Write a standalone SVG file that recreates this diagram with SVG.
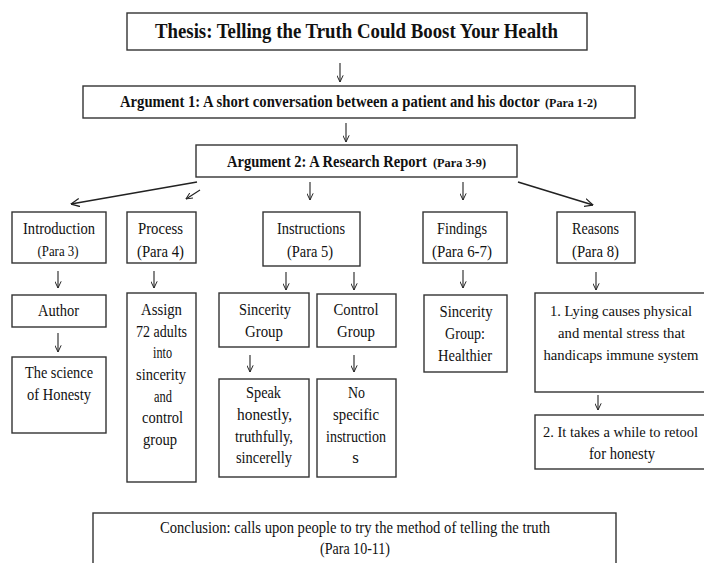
<svg xmlns="http://www.w3.org/2000/svg" width="704" height="563" viewBox="0 0 704 563">
<defs>
<marker id="ah" viewBox="0 0 10 10" refX="9.5" refY="5" markerWidth="7" markerHeight="7" markerUnits="userSpaceOnUse" orient="auto">
<path d="M0,0.5 L9.5,5 L0,9.5" fill="none" stroke="#222" stroke-width="1.4"/>
</marker>
<marker id="ahb" viewBox="0 0 10 10" refX="9.5" refY="5" markerWidth="9" markerHeight="9" markerUnits="userSpaceOnUse" orient="auto">
<path d="M0,0.5 L9.5,5 L0,9.5" fill="none" stroke="#222" stroke-width="1.4"/>
</marker>
<style>
rect{fill:#fff;stroke:#333;stroke-width:1.4}
text{font-family:"Liberation Serif","Times New Roman",serif;fill:#111;font-size:17px;text-anchor:middle}
.b{font-weight:bold}
.st{text-anchor:start}
.s{font-size:13px}
.p{font-size:14px}
.r{font-size:15px}
.c line{stroke:#222;stroke-width:1.1;marker-end:url(#ah)}
.c line.d{stroke-width:1.6;marker-end:url(#ahb)}
</style>
</defs>
<rect x="0" y="0" width="704" height="563" style="fill:#fff;stroke:none"/>

<g class="c" id="connectors">
<line x1="340" y1="63" x2="340" y2="82"/>
<line x1="346" y1="123" x2="346" y2="142"/>
<line x1="310" y1="182" x2="310" y2="200"/>
<line x1="463" y1="182" x2="463" y2="200"/>
<line class="d" x1="197" y1="182" x2="71" y2="204"/>
<line x1="200" y1="190" x2="186" y2="199"/>
<line class="d" x1="518" y1="182" x2="593" y2="205"/>
<line x1="58" y1="271" x2="58" y2="288"/>
<line x1="58" y1="333" x2="58" y2="352"/>
<line x1="154" y1="271" x2="154" y2="288"/>
<line x1="286" y1="272" x2="286" y2="290"/>
<line x1="354" y1="272" x2="354" y2="290"/>
<line x1="250" y1="355" x2="250" y2="372"/>
<line x1="354" y1="355" x2="354" y2="372"/>
<line x1="463" y1="270" x2="463" y2="288"/>
<line x1="596" y1="272" x2="596" y2="290"/>
<line x1="598" y1="395" x2="598" y2="410"/>
</g>

<g id="thesis">
<rect x="127" y="13" width="460" height="37"/>
<text class="b" x="155" y="38" style="font-size:22px;text-anchor:start" textLength="403" lengthAdjust="spacingAndGlyphs">Thesis: Telling the Truth Could Boost Your Health</text>
</g>

<g id="arg1">
<rect x="83" y="86" width="552" height="32"/>
<text class="b st" transform="translate(120,107) scale(0.86,1)" x="0" y="0" textLength="488" lengthAdjust="spacingAndGlyphs">Argument 1: A short conversation between a patient and his doctor</text>
<text class="b s st" x="545" y="107" textLength="52" lengthAdjust="spacingAndGlyphs">(Para 1-2)</text>
</g>

<g id="arg2">
<rect x="196" y="145" width="321" height="32"/>
<text class="b st" transform="translate(227,167) scale(0.85,1)" x="0" y="0" textLength="235" lengthAdjust="spacingAndGlyphs">Argument 2: A Research Report</text>
<text class="b s st" x="433" y="167" textLength="53" lengthAdjust="spacingAndGlyphs">(Para 3-9)</text>
</g>

<g id="intro">
<rect x="12" y="212" width="94" height="51"/>
<text x="59" y="234" textLength="72" lengthAdjust="spacingAndGlyphs">Introduction</text>
<text class="p" x="58" y="256" textLength="41" lengthAdjust="spacingAndGlyphs">(Para 3)</text>
</g>

<g id="process">
<rect x="127" y="212" width="69" height="51"/>
<text x="160.5" y="234" textLength="45" lengthAdjust="spacingAndGlyphs">Process</text>
<text x="160.5" y="257" textLength="47" lengthAdjust="spacingAndGlyphs">(Para 4)</text>
</g>

<g id="instructions">
<rect x="263" y="212" width="97" height="54"/>
<text x="311" y="234" textLength="68" lengthAdjust="spacingAndGlyphs">Instructions</text>
<text x="310" y="257" textLength="46" lengthAdjust="spacingAndGlyphs">(Para 5)</text>
</g>

<g id="findings">
<rect x="423" y="212" width="84" height="51"/>
<text x="462" y="234" textLength="50" lengthAdjust="spacingAndGlyphs">Findings</text>
<text x="462" y="257" textLength="60" lengthAdjust="spacingAndGlyphs">(Para 6-7)</text>
</g>

<g id="reasons">
<rect x="557" y="212" width="78" height="51"/>
<text x="595.5" y="234" textLength="47" lengthAdjust="spacingAndGlyphs">Reasons</text>
<text x="595.5" y="257" textLength="47" lengthAdjust="spacingAndGlyphs">(Para 8)</text>
</g>

<g id="author">
<rect x="12" y="295" width="94" height="32"/>
<text x="58.5" y="316" textLength="41" lengthAdjust="spacingAndGlyphs">Author</text>
</g>

<g id="science">
<rect x="12" y="357" width="94" height="76"/>
<text x="59" y="378" textLength="68" lengthAdjust="spacingAndGlyphs">The science</text>
<text x="59" y="400" textLength="64" lengthAdjust="spacingAndGlyphs">of Honesty</text>
</g>

<g id="assign">
<rect x="127" y="293" width="69" height="189"/>
<text x="161.5" y="315" textLength="41" lengthAdjust="spacingAndGlyphs">Assign</text>
<text x="161.5" y="337" textLength="51" lengthAdjust="spacingAndGlyphs">72 adults</text>
<text x="162.5" y="358" textLength="19" lengthAdjust="spacingAndGlyphs">into</text>
<text x="161" y="380" textLength="50" lengthAdjust="spacingAndGlyphs">sincerity</text>
<text x="163" y="402" textLength="18" lengthAdjust="spacingAndGlyphs">and</text>
<text x="162.5" y="423" textLength="41" lengthAdjust="spacingAndGlyphs">control</text>
<text x="160" y="445" textLength="34" lengthAdjust="spacingAndGlyphs">group</text>
</g>

<g id="sincerity">
<rect x="219" y="293" width="90" height="54"/>
<text x="265" y="315" textLength="52" lengthAdjust="spacingAndGlyphs">Sincerity</text>
<text x="264" y="337" textLength="38" lengthAdjust="spacingAndGlyphs">Group</text>
</g>

<g id="control">
<rect x="317" y="294" width="79" height="53"/>
<text x="356" y="315" textLength="45" lengthAdjust="spacingAndGlyphs">Control</text>
<text x="356" y="337" textLength="38" lengthAdjust="spacingAndGlyphs">Group</text>
</g>

<g id="speak">
<rect x="219" y="379" width="90" height="98"/>
<text x="263.5" y="398" textLength="35" lengthAdjust="spacingAndGlyphs">Speak</text>
<text x="264.5" y="420" textLength="55" lengthAdjust="spacingAndGlyphs">honestly,</text>
<text x="264" y="442" textLength="58" lengthAdjust="spacingAndGlyphs">truthfully,</text>
<text x="264" y="463" textLength="56" lengthAdjust="spacingAndGlyphs">sincerelly</text>
</g>

<g id="nospecific">
<rect x="317" y="379" width="79" height="98"/>
<text x="356.5" y="398" textLength="17" lengthAdjust="spacingAndGlyphs">No</text>
<text x="356" y="420" textLength="46" lengthAdjust="spacingAndGlyphs">specific</text>
<text x="356" y="442" textLength="60" lengthAdjust="spacingAndGlyphs">instruction</text>
<text x="355.5" y="463">s</text>
</g>

<g id="healthier">
<rect x="424" y="295" width="83" height="77"/>
<text x="466" y="317" textLength="53" lengthAdjust="spacingAndGlyphs">Sincerity</text>
<text x="465" y="339" textLength="40" lengthAdjust="spacingAndGlyphs">Group:</text>
<text x="465" y="361" textLength="54" lengthAdjust="spacingAndGlyphs">Healthier</text>
</g>

<g id="reason1">
<rect x="535" y="293" width="172" height="99"/>
<text class="r" x="621" y="316" textLength="142" lengthAdjust="spacingAndGlyphs">1. Lying causes physical</text>
<text class="r" x="621.5" y="338" textLength="127" lengthAdjust="spacingAndGlyphs">and mental stress that</text>
<text class="r" x="621" y="360" textLength="155" lengthAdjust="spacingAndGlyphs">handicaps immune system</text>
</g>

<g id="reason2">
<rect x="535" y="415" width="172" height="54"/>
<text class="r" x="620.5" y="437" textLength="155" lengthAdjust="spacingAndGlyphs">2. It takes a while to retool</text>
<text x="622" y="459" textLength="66" lengthAdjust="spacingAndGlyphs">for honesty</text>
</g>

<g id="conclusion">
<rect x="93" y="513" width="523" height="60"/>
<text x="355" y="533" textLength="390" lengthAdjust="spacingAndGlyphs">Conclusion: calls upon people to try the method of telling the truth</text>
<text x="355" y="554" textLength="70" lengthAdjust="spacingAndGlyphs">(Para 10-11)</text>
</g>
</svg>
